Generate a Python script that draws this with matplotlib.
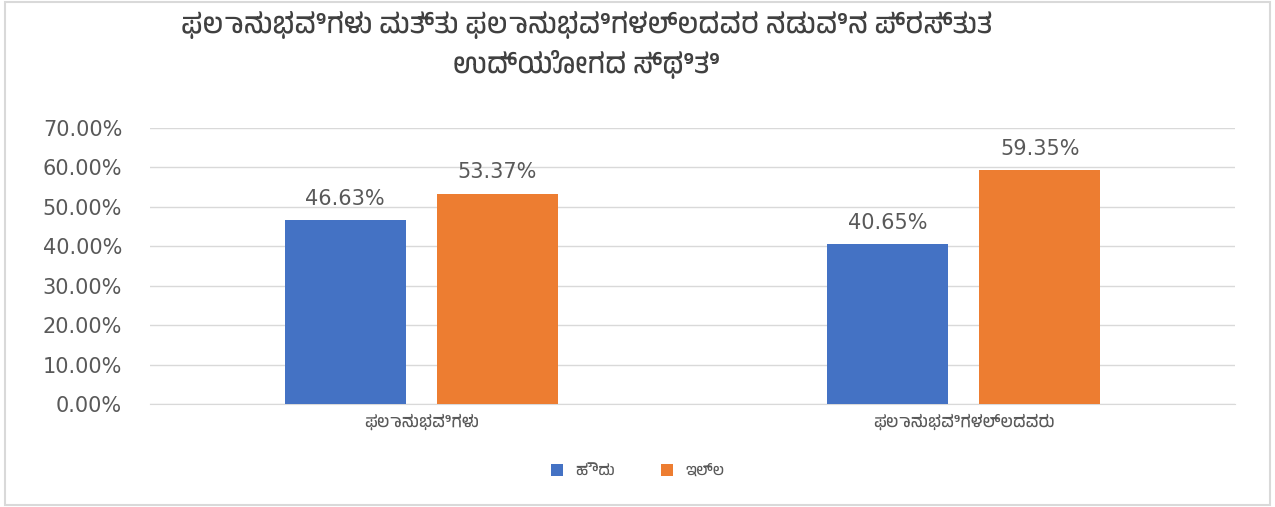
import matplotlib
matplotlib.use('Agg')
import matplotlib.pyplot as plt
import matplotlib.font_manager as fm
import numpy as np
from matplotlib.ticker import PercentFormatter

categories = ['ಫಲಾನುಭವಿಗಳು', 'ಫಲಾನುಭವಿಗಳಲ್ಲದವರು']
series_names = ['ಹೌದು', 'ಇಲ್ಲ']
yes_values = [46.63, 40.65]
no_values = [53.37, 59.35]
title = 'ಫಲಾನುಭವಿಗಳು ಮತ್ತು ಫಲಾನುಭವಿಗಳಲ್ಲದವರ ನಡುವಿನ ಪ್ರಸ್ತುತ\nಉದ್ಯೋಗದ ಸ್ಥಿತಿ'

names = sorted(set(f.name for f in fm.fontManager.ttflist))
kannada = [n for n in names if 'Kannada' in n]
fams = kannada + ['DejaVu Sans']
plt.rcParams['font.family'] = fams
num_font = ['DejaVu Sans']

blue = '#4472C4'
orange = '#ED7D31'
text_col = '#595959'

fig = plt.figure(figsize=(12.75, 5.07), dpi=100)
ax = fig.add_axes([0.1176, 0.2032, 0.851, 0.5444])

x = np.arange(len(categories))
w = 0.223
off = 0.14
b1 = ax.bar(x - off, yes_values, w, color=blue, label=series_names[0], zorder=3)
b2 = ax.bar(x + off, no_values, w, color=orange, label=series_names[1], zorder=3)

for bars, vals in ((b1, yes_values), (b2, no_values)):
    for b, v in zip(bars, vals):
        ax.text(b.get_x() + b.get_width() / 2, v + 2.8, '{:.2f}%'.format(v),
                ha='center', va='bottom', fontsize=15, color=text_col, family=num_font)

ax.set_xlim(-0.5, 1.5)
ax.set_ylim(0, 70)
ax.set_yticks(np.arange(0, 71, 10))
ax.yaxis.set_major_formatter(PercentFormatter(decimals=2))
ax.set_xticks(x)
ax.set_xticklabels(categories, fontsize=12, color=text_col)
ax.tick_params(axis='y', labelsize=15, labelcolor=text_col, length=0, pad=20)
for t in ax.get_yticklabels():
    t.set_family(num_font)
ax.tick_params(axis='x', length=0, pad=7)
ax.grid(axis='y', color='#D9D9D9', linewidth=1, zorder=0)
for s in ['top', 'right', 'left']:
    ax.spines[s].set_visible(False)
ax.spines['bottom'].set_color('#D9D9D9')

fig.text(0.46, 0.912, title, ha='center', va='center', fontsize=20,
         fontweight='bold', color='#404040', linespacing=1.4)

fig.legend(loc='lower center', bbox_to_anchor=(0.5, 0.03), ncol=2, frameon=False,
           fontsize=11, handlelength=0.8, handleheight=0.8, columnspacing=3,
           labelcolor=text_col)

fig.patches.append(plt.Rectangle((0.004, 0.004), 0.992, 0.992, transform=fig.transFigure,
                                 fill=False, edgecolor='#D9D9D9', linewidth=1.5))

fig.savefig('out.png', dpi=100)
